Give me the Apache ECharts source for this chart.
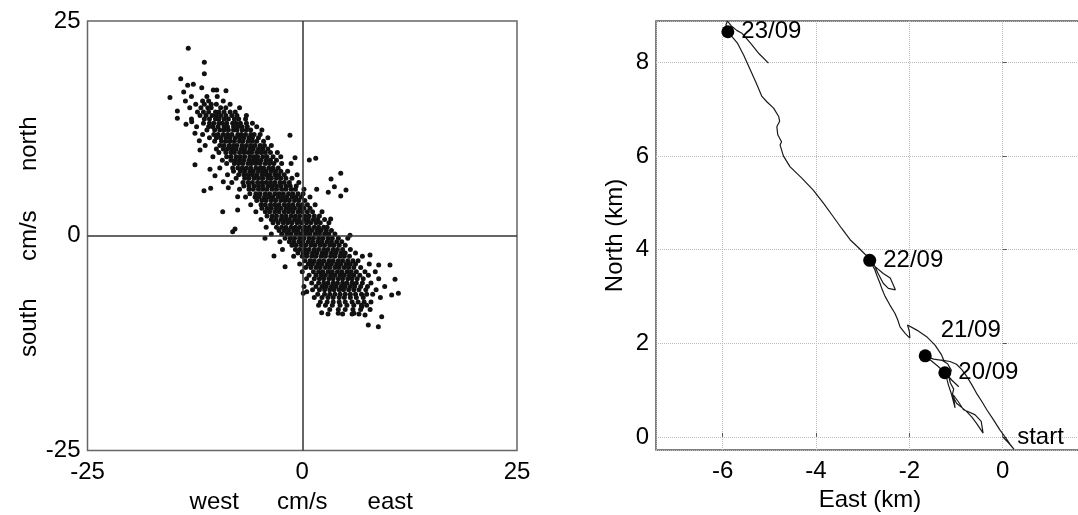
<!DOCTYPE html>
<html>
<head>
<meta charset="utf-8">
<script src="https://cdn.jsdelivr.net/npm/echarts@6/dist/echarts.min.js"></script>
<style>
html,body{margin:0;padding:0;background:#fff;}
#chart{width:1078px;height:515px;}
</style>
</head>
<body>
<div id="chart"></div>
<script>
// ---------- Left panel: current velocity scatter (cm/s) ----------
const velTicks = [-25, 0, 25];
// rows of the dense cloud: [north, [east values...]]
const scatterRows = [
  [16.2, [-12.9, -11.1, -9.9]],
  [15.7, [-13.6, -11.6, -10.9, -9.2]],
  [15.3, [-12.4, -11.4, -10.6, -10.0, -8.4]],
  [14.9, [-13.1, -11.8, -11.0, -10.6, -9.5, -8.9, -7.3]],
  [14.4, [-12.2, -11.5, -10.9, -10.1, -9.7, -9.1, -8.4, -7.8]],
  [14.0, [-11.9, -11.2, -10.5, -10.0, -9.5, -8.9, -8.2, -7.6, -6.5]],
  [13.6, [-12.9, -11.4, -10.8, -10.1, -9.7, -9.1, -8.6, -7.9, -7.4, -6.6]],
  [13.1, [-11.5, -10.8, -10.3, -9.7, -9.3, -8.8, -8.1, -7.7, -7.2, -6.5, -5.8]],
  [12.7, [-12.3, -10.9, -10.4, -9.8, -9.1, -8.7, -8.0, -7.5, -7.0, -6.4, -5.3]],
  [12.3, [-11.1, -10.2, -9.6, -9.1, -8.6, -8.0, -7.6, -7.0, -6.5, -6.0, -4.7]],
  [11.8, [-11.6, -10.3, -9.8, -9.2, -8.7, -8.2, -7.5, -7.1, -6.6, -6.0, -5.6, -4.9]],
  [11.4, [-10.8, -10.0, -9.5, -8.9, -8.4, -7.8, -7.3, -6.8, -6.2, -5.8, -5.1, -4.0]],
  [11.0, [-10.2, -9.4, -8.9, -8.4, -7.9, -7.3, -6.9, -6.3, -5.8, -5.3, -4.5]],
  [10.5, [-11.3, -9.6, -9.1, -8.5, -8.0, -7.6, -7.0, -6.5, -6.0, -5.5, -4.9, -4.4, -3.6]],
  [10.1, [-10.0, -9.2, -8.7, -8.2, -7.7, -7.1, -6.7, -6.1, -5.7, -5.1, -4.6, -4.0]],
  [9.7, [-9.7, -8.9, -8.3, -7.9, -7.3, -6.8, -6.3, -5.9, -5.3, -4.8, -4.3, -3.7, -2.9]],
  [9.2, [-10.4, -8.8, -8.3, -7.7, -7.2, -6.7, -6.1, -5.6, -5.2, -4.6, -4.1, -3.4, -2.5]],
  [8.8, [-9.3, -8.3, -7.8, -7.3, -6.8, -6.2, -5.7, -5.3, -4.8, -4.2, -3.7, -3.0]],
  [8.4, [-8.8, -7.9, -7.4, -6.9, -6.3, -5.9, -5.4, -4.9, -4.3, -3.8, -3.3, -2.4, -1.3]],
  [7.9, [-9.6, -8.1, -7.5, -7.0, -6.5, -6.0, -5.4, -4.9, -4.5, -3.9, -3.4, -2.8]],
  [7.5, [-8.0, -7.2, -6.7, -6.1, -5.7, -5.1, -4.6, -4.2, -3.6, -3.1, -2.5, -1.7]],
  [7.1, [-8.7, -7.4, -6.8, -6.3, -5.8, -5.3, -4.7, -4.2, -3.8, -3.2, -2.7, -2.1, -0.6]],
  [6.7, [-7.7, -6.7, -6.2, -5.6, -5.1, -4.6, -4.0, -3.6, -3.0, -2.5, -1.9, -1.2]],
  [6.2, [-8.2, -6.9, -6.3, -5.8, -5.2, -4.7, -4.2, -3.7, -3.2, -2.6, -2.1, -1.5, -0.4]],
  [5.8, [-6.8, -6.2, -5.6, -5.1, -4.6, -4.0, -3.5, -3.0, -2.5, -1.9, -1.4, -0.7]],
  [5.4, [-7.3, -6.2, -5.7, -5.1, -4.6, -4.1, -3.5, -3.0, -2.4, -1.9, -1.3, -0.8, 0.2]],
  [4.9, [-6.1, -5.4, -4.9, -4.3, -3.8, -3.2, -2.7, -2.2, -1.6, -1.1, -0.5, 0.1]],
  [4.5, [-6.6, -5.5, -5.0, -4.4, -3.9, -3.4, -2.8, -2.3, -1.8, -1.2, -0.7, -0.1, 0.9]],
  [4.1, [-5.3, -4.7, -4.2, -3.6, -3.1, -2.5, -2.0, -1.5, -0.9, -0.4, 0.3]],
  [3.6, [-6.0, -4.8, -4.3, -3.7, -3.2, -2.7, -2.1, -1.6, -1.1, -0.5, 0.0, 0.6, 1.5]],
  [3.2, [-4.7, -4.1, -3.6, -3.0, -2.5, -1.9, -1.4, -0.9, -0.3, 0.2, 0.9]],
  [2.8, [-5.4, -4.3, -3.8, -3.2, -2.7, -2.1, -1.6, -1.1, -0.5, 0.0, 0.6, 1.2, 2.3]],
  [2.3, [-4.1, -3.5, -3.0, -2.4, -1.9, -1.3, -0.8, -0.3, 0.3, 0.8, 1.4, 2.0]],
  [1.9, [-4.8, -3.6, -3.1, -2.5, -2.0, -1.5, -0.9, -0.4, 0.2, 0.7, 1.3, 1.8, 2.6]],
  [1.5, [-3.4, -2.8, -2.2, -1.7, -1.2, -0.6, -0.1, 0.5, 1.0, 1.6, 2.1, 3.1]],
  [1.0, [-4.2, -3.0, -2.4, -1.9, -1.3, -0.8, -0.3, 0.3, 0.8, 1.4, 1.9, 2.5, 2.9]],
  [0.6, [-2.7, -2.1, -1.6, -1.0, -0.5, 0.1, 0.6, 1.1, 1.7, 2.2, 2.8, 3.4]],
  [0.2, [-3.6, -2.4, -1.8, -1.3, -0.7, -0.2, 0.4, 0.9, 1.5, 2.0, 2.6, 3.1, 3.8]],
  [-0.3, [-2.0, -1.4, -0.9, -0.3, 0.2, 0.8, 1.3, 1.9, 2.4, 3.0, 3.5, 4.2, 5.3]],
  [-0.7, [-2.6, -1.5, -1.0, -0.4, 0.1, 0.7, 1.2, 1.8, 2.3, 2.9, 3.4, 4.0, 4.6]],
  [-1.1, [-1.2, -0.7, -0.1, 0.4, 1.0, 1.5, 2.1, 2.6, 3.2, 3.7, 4.3, 5.0]],
  [-1.6, [-2.3, -0.8, -0.3, 0.3, 0.8, 1.4, 1.9, 2.5, 3.0, 3.6, 4.1, 4.7, 5.6]],
  [-2.0, [-0.5, 0.1, 0.6, 1.2, 1.7, 2.3, 2.8, 3.4, 3.9, 4.5, 5.0, 6.2]],
  [-2.4, [-1.0, 0.0, 0.5, 1.1, 1.6, 2.2, 2.7, 3.3, 3.8, 4.4, 4.9, 5.5, 7.0]],
  [-2.9, [0.3, 0.9, 1.4, 2.0, 2.5, 3.1, 3.6, 4.2, 4.7, 5.3, 5.9, 6.5]],
  [-3.3, [-0.3, 0.7, 1.2, 1.8, 2.3, 2.9, 3.4, 4.0, 4.5, 5.1, 5.6, 6.2, 7.8]],
  [-3.7, [0.4, 1.0, 1.6, 2.1, 2.7, 3.2, 3.8, 4.3, 4.9, 5.4, 6.0, 6.8]],
  [-4.2, [0.0, 1.3, 1.9, 2.4, 3.0, 3.5, 4.1, 4.6, 5.2, 5.7, 6.3, 7.3, 8.5]],
  [-4.6, [0.8, 1.6, 2.2, 2.7, 3.3, 3.8, 4.4, 4.9, 5.5, 6.0, 6.7, 7.7]],
  [-5.0, [0.5, 1.4, 2.0, 2.5, 3.1, 3.6, 4.2, 4.7, 5.3, 5.8, 6.4, 7.1, 8.9]],
  [-5.5, [1.1, 1.9, 2.5, 3.0, 3.6, 4.1, 4.7, 5.2, 5.8, 6.3, 7.0, 8.0]],
  [-5.9, [0.2, 1.6, 2.3, 2.8, 3.4, 3.9, 4.5, 5.0, 5.6, 6.1, 6.8, 7.6, 9.6]],
  [-6.3, [1.2, 2.0, 2.6, 3.2, 3.7, 4.3, 4.8, 5.4, 6.0, 6.6, 7.4, 8.6]],
  [-6.8, [1.8, 2.6, 3.2, 3.8, 4.4, 5.0, 5.6, 6.2, 6.9, 7.5, 8.2]],
  [-7.2, [1.4, 2.3, 3.0, 3.6, 4.3, 4.9, 5.6, 6.3, 7.1, 9.1]],
  [-7.7, [2.1, 2.9, 3.6, 4.3, 5.0, 5.8, 6.5, 7.2, 8.0]],
  [-8.1, [1.9, 2.7, 3.5, 4.4, 5.2, 6.0, 6.9, 7.5]],
  [-8.6, [3.2, 4.2, 5.0, 5.9, 6.8, 7.9]],
  [-9.1, [3.0, 4.7, 5.8, 6.6]]
];
// isolated points read individually: [east, north]
const scatterOutliers = [
  [-13.27, 21.82], [-11.40, 20.19], [-11.40, 18.87], [-14.15, 18.29], [-13.34, 17.51],
  [-12.68, 17.63], [-13.80, 16.73], [-15.40, 16.10], [-11.70, 17.24], [-10.35, 16.97],
  [-9.96, 16.97], [-8.88, 16.89], [-14.54, 14.52], [-14.54, 13.67], [-13.53, 12.97],
  [-12.87, 13.28], [-12.49, 11.92], [-11.98, 11.07], [-11.90, 9.98], [-12.49, 8.27],
  [-11.44, 5.25], [-10.66, 5.52], [-9.26, 2.80], [-8.10, 0.47], [-7.83, 0.79],
  [-10.74, 7.73], [-10.16, 6.99], [-9.19, 6.29], [-8.61, 5.60], [-7.52, 4.55],
  [-7.52, 3.00], [-3.29, -2.36], [-4.34, -0.30], [-2.00, -3.60], [-1.43, 11.69],
  [-0.84, 9.09], [0.82, 8.82], [1.57, 9.01], [3.35, 6.61], [4.48, 7.27],
  [3.74, 5.71], [5.09, 5.33], [4.48, 4.63], [3.03, 5.06], [1.68, 5.41],
  [3.31, 1.95], [5.56, 0.05], [7.89, -2.24], [8.90, -3.41], [10.21, -3.41],
  [10.80, -5.07], [11.19, -6.70], [10.41, -6.90], [9.25, -9.42], [8.86, -10.59],
  [7.69, -10.39], [7.31, -9.23], [6.02, -9.03], [4.19, -9.03], [2.26, -8.96],
  [0.52, -6.51], [0.12, -6.70], [6.92, -8.26]
];

// ---------- Right panel: progressive vector diagram (km) ----------
const trackPoints = [
  [0.00, 0.00], [0.12, -0.12], [0.24, -0.26], [0.16, -0.16], [0.08, -0.04], [-0.06, 0.15],
  [-0.20, 0.37], [-0.34, 0.58], [-0.45, 0.76], [-0.56, 0.93], [-0.66, 1.11], [-0.77, 1.29],
  [-0.88, 1.44], [-0.99, 1.55], [-1.13, 1.61], [-1.31, 1.64], [-1.18, 1.56], [-1.10, 1.42],
  [-1.16, 1.30], [-1.12, 1.15], [-1.05, 1.02], [-1.08, 0.90], [-0.99, 0.72], [-0.88, 0.63],
  [-0.77, 0.54], [-0.66, 0.42], [-0.56, 0.29], [-0.42, 0.08], [-0.46, 0.33], [-0.59, 0.47],
  [-0.72, 0.53], [-0.84, 0.58], [-0.95, 0.75], [-1.06, 0.90], [-1.02, 0.62], [-1.10, 0.92],
  [-1.16, 1.10], [-1.20, 1.25], [-1.24, 1.37], [-1.10, 1.22], [-0.94, 1.07], [-1.08, 1.20],
  [-1.22, 1.36], [-1.40, 1.52], [-1.55, 1.64], [-1.66, 1.73], [-1.48, 1.66], [-1.26, 1.63],
  [-1.31, 1.75], [-1.45, 1.96], [-1.63, 2.14], [-1.84, 2.28], [-2.04, 2.39], [-2.00, 2.25],
  [-1.99, 2.11], [-2.09, 2.21], [-2.20, 2.35], [-2.25, 2.50], [-2.31, 2.64], [-2.42, 2.82],
  [-2.52, 3.00], [-2.58, 3.14], [-2.63, 3.28], [-2.69, 3.43], [-2.74, 3.57], [-2.80, 3.68],
  [-2.85, 3.77], [-2.74, 3.64], [-2.56, 3.49], [-2.41, 3.39], [-2.36, 3.28], [-2.30, 3.14],
  [-2.45, 3.17], [-2.56, 3.28], [-2.67, 3.49], [-2.77, 3.71], [-2.86, 3.84], [-2.95, 3.90],
  [-3.10, 4.05], [-3.27, 4.21], [-3.45, 4.45], [-3.63, 4.70], [-3.85, 5.00], [-4.06, 5.27],
  [-4.30, 5.52], [-4.56, 5.77], [-4.70, 6.00], [-4.77, 6.23], [-4.74, 6.30], [-4.82, 6.45],
  [-4.84, 6.62], [-4.78, 6.74], [-4.80, 6.84], [-4.91, 7.02], [-5.05, 7.15], [-5.16, 7.27],
  [-5.28, 7.55], [-5.41, 7.84], [-5.55, 8.15], [-5.68, 8.40], [-5.77, 8.51], [-5.89, 8.65],
  [-5.93, 8.80], [-5.90, 8.88], [-5.82, 8.78], [-5.70, 8.68], [-5.59, 8.62], [-5.40, 8.40],
  [-5.22, 8.18], [-5.02, 7.98]
];
const dayMarkers = [[-5.89, 8.65], [-2.85, 3.77], [-1.66, 1.73], [-1.24, 1.37]];
const dayLabels = ['23/09', '22/09', '21/09', '20/09'];
const dayLabelOffsets = [[0, 0], [0, 0], [2, -25], [0, 0]];
const startPoint = [0, 0];
const startLabel = 'start';

const FONT = 'Liberation Sans, Arimo, Arial, sans-serif';
const FS = 24;
const TXT = '#000';

const velocityPoints = scatterOutliers.concat(
  scatterRows.flatMap(([n, es]) => es.map(e => [e, n]))
);

const chart = echarts.init(document.getElementById('chart'), null, {renderer: 'canvas'});

const richName = (w) => ({
  a: {width: w, align: 'center', fontSize: FS, fontFamily: FONT, color: TXT},
  b: {width: w, align: 'center', fontSize: FS, fontFamily: FONT, color: TXT},
  c: {width: w, align: 'center', fontSize: FS, fontFamily: FONT, color: TXT}
});
const lbl = {fontSize: FS, color: TXT, fontFamily: FONT, opacity: 1, textBorderWidth: 0};

chart.setOption({
  animation: false,
  backgroundColor: '#fff',
  textStyle: {fontFamily: FONT},
  grid: [
    {left: 87.5, top: 21, width: 429.5, height: 429.5, show: true, outerBoundsMode: 'none',
     containLabel: false,
     borderColor: '#666', borderWidth: 1.5, backgroundColor: 'transparent'},
    {left: 656, top: 21, right: -18, bottom: 65, show: true, outerBoundsMode: 'none',
     containLabel: false,
     borderColor: '#555', borderWidth: 1.5, backgroundColor: 'transparent'}
  ],
  xAxis: [
    {gridIndex: 0, type: 'value', min: velTicks[0], max: velTicks[2], interval: 25,
     axisLine: {show: false}, axisTick: {show: false}, splitLine: {show: false},
     axisLabel: Object.assign({margin: 10}, lbl),
     name: '{a|west}{b|cm/s}{c|east}', nameLocation: 'middle', nameGap: 40,
     nameTextStyle: {rich: richName(88)}},
    {gridIndex: 1, type: 'value', min: -7.43, max: 2, splitNumber: 5, minInterval: 2, maxInterval: 2,
     axisLine: {show: false},
     axisTick: {show: true, inside: true, length: 4, lineStyle: {color: '#555'}},
     splitLine: {show: true, lineStyle: {color: '#bbb', type: 'dotted', width: 1}},
     axisLabel: Object.assign({margin: 9, showMinLabel: false, showMaxLabel: false}, lbl),
     name: 'East (km)', nameLocation: 'middle', nameGap: 35,
     nameTextStyle: Object.assign({padding: [0, 12, 0, 0]}, lbl)}
  ],
  yAxis: [
    {gridIndex: 0, type: 'value', min: velTicks[0], max: velTicks[2], interval: 25,
     axisLine: {show: false}, axisTick: {show: false}, splitLine: {show: false},
     axisLabel: Object.assign({margin: 7}, lbl),
     name: '{a|south}{b|cm/s}{c|north}', nameLocation: 'middle', nameGap: 46, nameRotate: 90,
     nameTextStyle: {rich: richName(92)}},
    {gridIndex: 1, type: 'value', min: -0.28, max: 8.88, splitNumber: 5, minInterval: 2, maxInterval: 2,
     axisLine: {show: false},
     axisTick: {show: true, inside: true, length: 4, lineStyle: {color: '#555'}},
     splitLine: {show: true, lineStyle: {color: '#bbb', type: 'dotted', width: 1}},
     axisLabel: Object.assign({margin: 7, showMinLabel: false, showMaxLabel: false}, lbl),
     name: 'North (km)', nameLocation: 'middle', nameGap: 29, nameRotate: 90,
     nameTextStyle: lbl}
  ],
  series: [
    {type: 'scatter', xAxisIndex: 0, yAxisIndex: 0, data: velocityPoints,
     symbolSize: 5, itemStyle: {color: '#111', opacity: 1}, silent: true, z: 3,
     markLine: {silent: true, symbol: 'none', animation: false,
       lineStyle: {color: '#333', width: 1.5, type: 'solid'}, label: {show: false},
       data: [{xAxis: 0}, {yAxis: 0}]}},
    {type: 'line', xAxisIndex: 1, yAxisIndex: 1, data: trackPoints,
     showSymbol: false, symbol: 'none', lineStyle: {color: '#1a1a1a', width: 1.2}, z: 3, silent: true},
    {type: 'scatter', xAxisIndex: 1, yAxisIndex: 1, z: 4, silent: true,
     symbolSize: 13, itemStyle: {color: '#000', opacity: 1},
     data: dayMarkers.map((p, i) => ({
       value: p,
       label: Object.assign({show: true, position: 'right', distance: 7, formatter: dayLabels[i],
         offset: dayLabelOffsets[i]}, lbl)
     }))},
    {type: 'scatter', xAxisIndex: 1, yAxisIndex: 1, z: 4, silent: true,
     symbolSize: 1, itemStyle: {color: 'transparent'},
     data: [{value: startPoint,
       label: Object.assign({show: true, position: 'right', distance: 14, formatter: startLabel}, lbl)}]}
  ]
});
</script>
</body>
</html>
